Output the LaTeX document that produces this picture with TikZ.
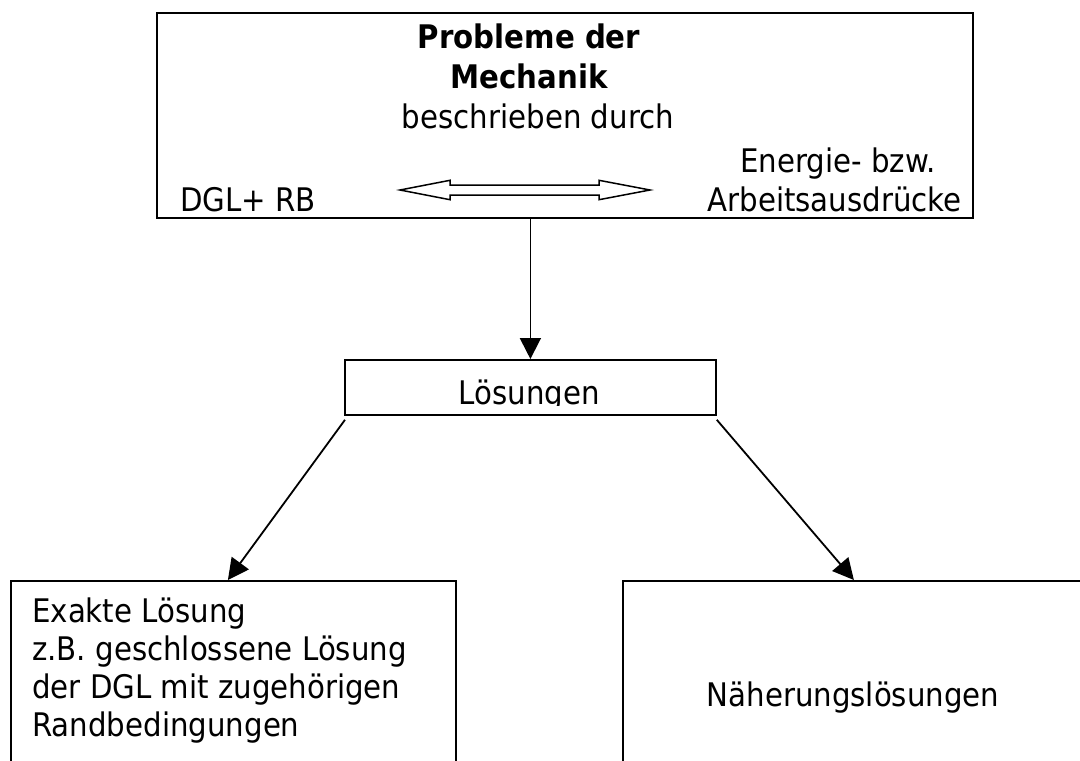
\documentclass[tikz,border=0pt]{standalone}
\usepackage{fontspec}
\setmainfont{DejaVu Sans}[FakeStretch=0.9]
\usetikzlibrary{arrows.meta}
\begin{document}
\begin{tikzpicture}[x=1pt,y=-1pt,
  box/.style={draw=black, line width=1.8pt, inner sep=0pt, anchor=north west},
  txt/.style={inner sep=0pt, font=\fontsize{32.5}{38}\selectfont},
  btxt/.style={inner sep=0pt, font=\fontsize{32.5}{38}\selectfont\bfseries},
  conn/.style={line width=1.8pt, -{Triangle[width=21pt,length=21pt]}},
  dbl/.style={draw=black, line width=1.5pt, fill=white, line join=miter},
]
\clip (0,0) rectangle (1080,761);
% boxes
\node[box, minimum width=816pt, minimum height=205pt] (top) at (156,12) {};
\node[box, minimum width=371pt, minimum height=55pt] (los) at (344,359) {};
\node[box, minimum width=445pt, minimum height=260pt] (exact) at (10,580) {};
\node[box, minimum width=462pt, minimum height=260pt] (approx) at (622,580) {};
% texts of the top box
\node[btxt, anchor=base] (t1) at (529,48) {Probleme der};
\node[btxt, anchor=base] (t2) at (529,88) {Mechanik};
\node[txt, anchor=base] (t3) at (538,128) {beschrieben durch};
\node[txt, anchor=base west] (dgl) at (180,211) {DGL+ RB};
\node[txt, anchor=base] (en1) at (838,172) {Energie- bzw.};
\node[txt, anchor=base east] (en2) at (962,211) {Arbeitsausdrücke};
% hollow double arrow
\coordinate (dl) at (400,190);
\coordinate (dr) at (650,190);
\draw[dbl] (dl) -- (450,180.3) -- (450,185) -- (599,185) -- (599,180.3) -- (dr)
  -- (599,199.7) -- (599,195) -- (450,195) -- (450,199.7) -- cycle;
% Lösungen text, clipped by its frame
\begin{scope}
\clip (344,359) rectangle (715,405.5);
\node[txt, anchor=base] (lostext) at (529.5,404) {Lösungen};
\end{scope}
% bottom texts
\node[txt, anchor=base west] (e1) at (32,622) {Exakte Lösung};
\node[txt, anchor=base west] (e2) at (32,660) {z.B. geschlossene Lösung};
\node[txt, anchor=base west] (e3) at (32,698) {der DGL mit zugehörigen};
\node[txt, anchor=base west] (e4) at (32,736) {Randbedingungen};
\node[txt, anchor=base] (n1) at (853,706) {Näherungslösungen};
% connectors
\draw[conn] (los.north |- top.south) -- (los.north);
\draw[conn] ([shift={(1,4)}]los.south west) -- ([xshift=-5.5pt]exact.north);
\draw[conn] ([shift={(0,4)}]los.south east) -- (approx.north);
\end{tikzpicture}
\end{document}
